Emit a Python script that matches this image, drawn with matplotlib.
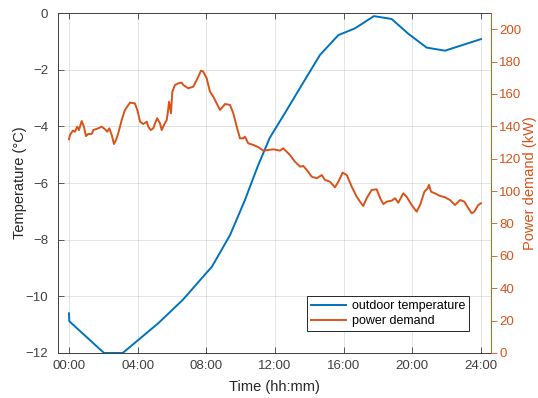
import matplotlib
matplotlib.use("Agg")
import matplotlib.pyplot as plt
import numpy as np

# outdoor temperature (hours, degC)
temp_h = [0.0, 0.02, 2.04, 3.13, 5.2, 6.62, 8.33, 9.38, 10.25, 11.0, 11.7, 12.58,
          13.6, 14.62, 15.69, 16.66, 17.76, 18.79, 19.8, 20.83, 21.9, 24.0]
temp_c = [-10.6, -10.88, -12.0, -12.0, -10.95, -10.13, -8.95, -7.84, -6.6, -5.4, -4.4, -3.53,
          -2.5, -1.48, -0.78, -0.54, -0.11, -0.21, -0.75, -1.22, -1.33, -0.92]

# power demand (hours, kW)
power_h = [0.0, 0.06, 0.22, 0.35, 0.48, 0.58, 0.74, 0.87, 0.99, 1.12, 1.32, 1.42, 1.71, 1.90,
           2.10, 2.23, 2.35, 2.49, 2.62, 2.74, 2.87, 3.07, 3.26, 3.55, 3.84, 3.98, 4.14, 4.33,
           4.53, 4.62, 4.76, 4.91, 5.01, 5.14, 5.30, 5.40, 5.53, 5.69, 5.75, 5.83, 5.94, 6.02,
           6.17, 6.37, 6.56, 6.66, 6.95, 7.24, 7.44, 7.69, 7.82, 8.02, 8.21, 8.41, 8.60, 8.80,
           9.09, 9.38, 9.57, 9.77, 9.96, 10.15, 10.25, 10.44, 10.74, 11.03, 11.32, 11.61, 11.90,
           12.10, 12.29, 12.48, 12.68, 12.87, 13.16, 13.46, 13.65, 13.85, 14.14, 14.43, 14.72,
           14.91, 15.20, 15.49, 15.69, 15.94, 16.18, 16.47, 16.76, 16.95, 17.14, 17.34, 17.63,
           17.92, 18.15, 18.31, 18.51, 18.80, 18.99, 19.18, 19.47, 19.67, 19.96, 20.25, 20.45,
           20.70, 20.89, 20.97, 21.09, 21.32, 21.61, 21.90, 22.19, 22.49, 22.78, 23.03, 23.26,
           23.46, 23.61, 23.84, 24.0]
power_kw = [132.0, 134.7, 137.3, 136.7, 139.8, 137.7, 143.3, 139.8, 134.0, 135.3, 135.3, 137.7,
            138.8, 139.8, 138.2, 136.7, 138.8, 134.6, 129.1, 131.6, 135.7, 143.9, 150.1, 154.6,
            154.2, 150.1, 142.9, 141.4, 142.9, 139.8, 137.7, 138.8, 141.9, 145.0, 141.9, 137.7,
            140.8, 143.9, 148.1, 155.2, 148.1, 161.4, 165.5, 166.6, 167.0, 165.5, 163.5, 164.5,
            168.6, 174.4, 173.8, 169.7, 161.4, 158.3, 154.2, 150.1, 153.8, 153.2, 148.1, 139.8,
            132.6, 132.6, 133.6, 129.5, 128.5, 127.1, 125.0, 125.4, 125.8, 125.4, 125.0, 126.4,
            124.3, 122.3, 118.2, 115.1, 115.5, 113.0, 108.9, 107.9, 109.9, 106.9, 105.8, 102.3,
            105.8, 111.4, 109.9, 102.7, 96.5, 93.5, 90.8, 95.6, 100.7, 101.1, 95.0, 92.0, 93.5,
            94.1, 95.6, 92.8, 98.6, 96.5, 91.4, 87.3, 91.4, 99.6, 101.7, 103.8, 99.6, 98.6, 97.0,
            96.2, 94.5, 91.4, 94.5, 93.5, 89.4, 86.3, 87.3, 91.4, 92.5]

tick_hours = [0, 4, 8, 12, 16, 20, 24]
tick_labels = ["00:00", "04:00", "08:00", "12:00", "16:00", "20:00", "24:00"]

blue = "#0072BD"
orange = "#D95319"
dark = "#262626"

plt.rcParams["font.family"] = ["Liberation Sans", "DejaVu Sans"]

fig = plt.figure(figsize=(5.38, 3.98), dpi=100)
ax = fig.add_axes([0.1078, 0.1131, 0.8048, 0.8542])
ax2 = ax.twinx()

l1, = ax.plot(temp_h, temp_c, color=blue, lw=1.4, label="outdoor temperature")
l2, = ax2.plot(power_h, power_kw, color=orange, lw=1.4, label="power demand")

ax.set_xlim(-0.64, 24.58)
ax.set_ylim(-12, 0)
ax2.set_ylim(0, 210)
ax.set_xticks(tick_hours)
ax.set_xticklabels(tick_labels)
ax.set_yticks(np.arange(-12, 1, 2))
ax2.set_yticks(np.arange(0, 201, 20))

ax.grid(True, color=dark, alpha=0.12, lw=0.7)
ax.set_axisbelow(True)

ax.tick_params(axis="both", which="both", direction="in", length=4, width=0.6,
               colors="#404040", labelsize=9.5, top=True)
ax.tick_params(axis="x", pad=5)
ax.tick_params(axis="y", pad=7)
ax2.tick_params(axis="y", direction="out", length=4, width=0.6, colors=orange,
                labelsize=9.5, pad=2)
for s in ["left", "bottom", "top"]:
    ax.spines[s].set_color("#404040")
    ax.spines[s].set_linewidth(0.7)
for s in ["left", "bottom", "top"]:
    ax2.spines[s].set_visible(False)
ax2.spines["right"].set_color(orange)
ax2.spines["right"].set_linewidth(0.7)
ax.spines["right"].set_visible(False)

ax.set_xlabel("Time (hh:mm)", fontsize=10.5, color=dark, labelpad=6)
ax.set_ylabel("Temperature (°C)", fontsize=10.5, color=dark, labelpad=-1)
ax2.set_ylabel("Power demand (kW)", fontsize=10.5, color=orange, labelpad=1)

leg = ax2.legend([l1, l2], ["outdoor temperature", "power demand"], loc="lower right",
                 bbox_to_anchor=(0.949, 0.065), fontsize=9, handlelength=2.8,
                 fancybox=False, framealpha=1, edgecolor="#262626",
                 borderpad=0.3, labelspacing=0.25, handletextpad=0.5, borderaxespad=0)
leg.get_frame().set_linewidth(0.7)

fig.savefig("out.png", dpi=100)
